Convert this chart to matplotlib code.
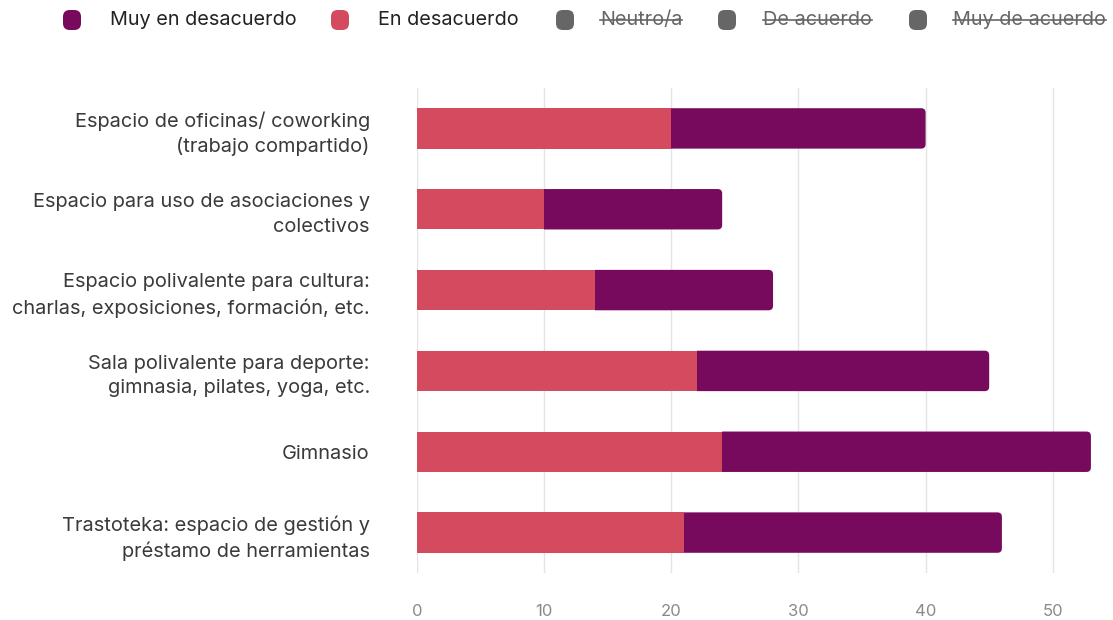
import matplotlib
matplotlib.use("Agg")
import matplotlib.pyplot as plt
from matplotlib.patches import FancyBboxPatch, Rectangle
from matplotlib.lines import Line2D

plt.rcParams['font.family'] = ['Inter', 'DejaVu Sans']

categories = [
    "Espacio de oficinas/ coworking\n(trabajo compartido)",
    "Espacio para uso de asociaciones y\ncolectivos",
    "Espacio polivalente para cultura:\ncharlas, exposiciones, formación, etc.",
    "Sala polivalente para deporte:\ngimnasia, pilates, yoga, etc.",
    "Gimnasio",
    "Trastoteka: espacio de gestión y\npréstamo de herramientas",
]
en_desacuerdo = [20, 10, 14, 22, 24, 21]
muy_en_desacuerdo = [20, 14, 14, 23, 29, 25]
xticks = [0, 10, 20, 30, 40, 50]
legend_labels = ["Muy en desacuerdo", "En desacuerdo", "Neutro/a", "De acuerdo", "Muy de acuerdo"]
legend_hidden = [False, False, True, True, True]

c_muy = "#770a5c"
c_en = "#d44a5f"
c_gray = "#666666"
legend_colors = [c_muy, c_en, c_gray, c_gray, c_gray]

W, H = 1113, 620
fig = plt.figure(figsize=(W / 100, H / 100), dpi=100)
ax_top, ax_bot, ax_left, ax_right = 88, 573, 417, 1096
ax = fig.add_axes([ax_left / W, 1 - ax_bot / H, (ax_right - ax_left) / W, (ax_bot - ax_top) / H])

xmax = 53.4
y = list(range(len(categories)))
ax.barh(y, en_desacuerdo, height=0.5, color=c_en, zorder=4)
muy_bars = ax.barh(y, muy_en_desacuerdo, left=en_desacuerdo, height=0.5, color=c_muy, zorder=3)

# rounded right end for the outer segment (left side clipped square)
px_per_x = (ax_right - ax_left) / xmax
px_per_y = (ax_bot - ax_top) / len(categories)
r_px = 4.5
rx = r_px / px_per_x
aspect = (r_px / px_per_y) / rx
for b in muy_bars:
    x0, y0, w, h = b.get_x(), b.get_y(), b.get_width(), b.get_height()
    b.set_visible(False)
    p = FancyBboxPatch((x0 - 2 * rx, y0), w + 2 * rx, h,
                       boxstyle=f"round,pad=0,rounding_size={rx}",
                       mutation_aspect=aspect, facecolor=c_muy, edgecolor="none", zorder=3)
    ax.add_patch(p)
    clip = Rectangle((x0, y0 - 0.1), w + 1, h + 0.2, transform=ax.transData)
    p.set_clip_path(clip)

ax.set_ylim(len(categories) - 0.5, -0.5)
ax.set_xlim(0, xmax)
ax.set_xticks(xticks)
ax.set_xticklabels([str(t) for t in xticks])
ax.set_yticks(y)
ax.set_yticklabels(categories, fontsize=14.4, color="#3a3a3a", ha="right",
                   multialignment="right", linespacing=1.45)
ax.tick_params(axis='y', length=0, pad=34)
ax.tick_params(axis='x', length=0, pad=22, labelsize=12, labelcolor="#8a8a8a")
ax.grid(axis='x', color="#e4e4e4", linewidth=1, zorder=0)
for s in ax.spines.values():
    s.set_visible(False)

# Legend
marker_x = [72, 340, 565, 727, 918]
text_x = [110, 378, 600, 763, 953]
ly = 20
renderer = fig.canvas.get_renderer()
for lab, col, hid, mx, tx in zip(legend_labels, legend_colors, legend_hidden, marker_x, text_x):
    box = FancyBboxPatch(((mx - 9) / W, 1 - (ly + 10) / H), 18 / W, 20 / H,
                         boxstyle="round,pad=0,rounding_size=0.006",
                         transform=fig.transFigure, facecolor=col, edgecolor="none",
                         mutation_aspect=W / H)
    fig.patches.append(box)
    t = fig.text(tx / W, 1 - ly / H, lab, fontsize=14.3,
                 color=("#666666" if hid else "#222222"), va="center", ha="left")
    if hid:
        bb = t.get_window_extent(renderer)
        x0, x1 = bb.x0 / W, bb.x1 / W
        yy = (bb.y0 + bb.y1) / 2 / H
        fig.add_artist(Line2D([x0, x1], [yy, yy], transform=fig.transFigure,
                              color="#666666", linewidth=1.2))

fig.savefig("out.png", dpi=100)
